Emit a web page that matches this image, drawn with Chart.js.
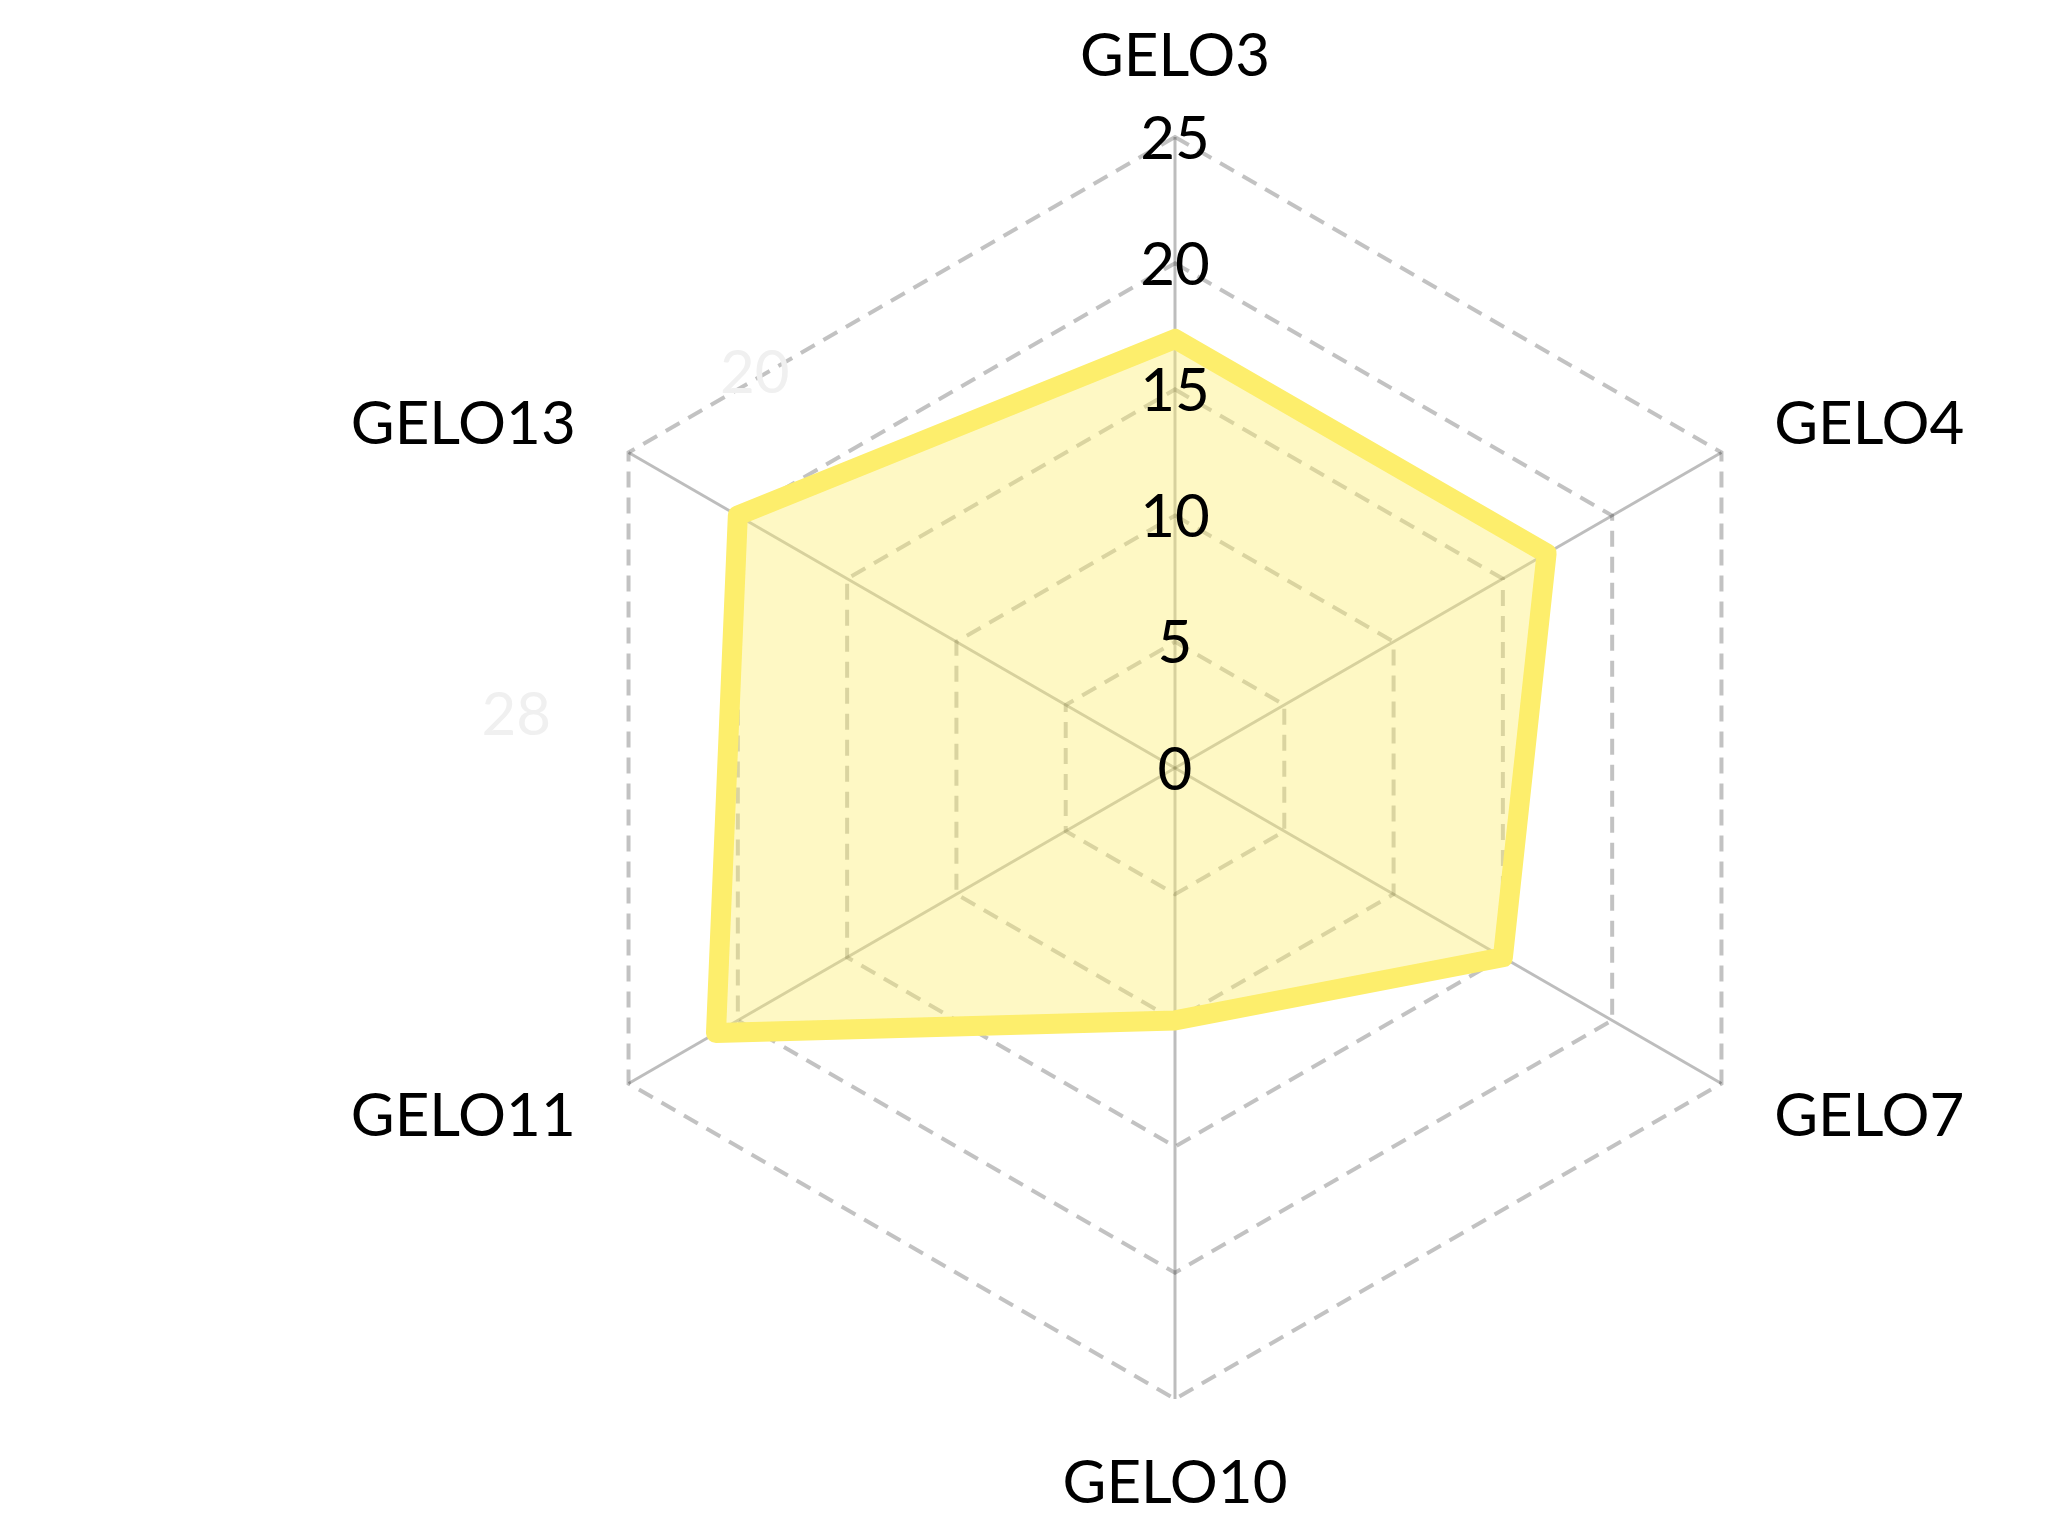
<!DOCTYPE html>
<html>
<head>
<meta charset="utf-8">
<script src="https://cdn.jsdelivr.net/npm/chart.js@4/dist/chart.umd.min.js"></script>
<style>
  html, body { margin: 0; padding: 0; background: #fff; }
  #wrap { width: 2048px; height: 1536px; }
</style>
</head>
<body>
<div id="wrap"><canvas id="radar"></canvas></div>
<script>
const categories = ['GELO3', 'GELO4', 'GELO7', 'GELO10', 'GELO11', 'GELO13'];
const values = [17, 17, 15, 10, 21, 20];
const tickValues = [0, 5, 10, 15, 20, 25];
// faint stray numbers seen in the picture (relative to radius)
const ghostTexts = ['20', '28'];
const ghostSpots = [[-0.666, -0.629], [-1.044, -0.086]];

const FONT = 'Lato, "Noto Sans", sans-serif';
const FONT_SIZE = 60;
const LINE = 'rgb(253, 238, 108)';
const FILL = 'rgba(253, 238, 108, 0.4)';

// tick numbers and point labels drawn by hand so they sit like the original
const labelPlugin = {
    id: 'labelPlugin',
    afterDraw(chart) {
        const scale = chart.scales.r;
        const ctx = chart.ctx;
        ctx.save();
        ctx.font = `${FONT_SIZE}px ${FONT}`;
        ctx.textBaseline = 'alphabetic';
        ctx.textAlign = 'center';

        // ghost numbers
        ctx.fillStyle = '#f0f0f0';
        ghostTexts.forEach((t, i) => {
            const asc = ctx.measureText(t).actualBoundingBoxAscent;
            const gx = scale.xCenter + ghostSpots[i][0] * scale.drawingArea;
            const gy = scale.yCenter + ghostSpots[i][1] * scale.drawingArea;
            ctx.fillText(t, gx, gy + asc / 2);
        });

        ctx.fillStyle = '#000';
        // tick values, centred on each ring along the top axis
        tickValues.forEach(v => {
            const t = String(v);
            const asc = ctx.measureText(t).actualBoundingBoxAscent;
            const d = scale.getDistanceFromCenterForValue(v);
            ctx.fillText(t, scale.xCenter, scale.yCenter - d + asc / 2);
        });

        categories.forEach((label, i) => {
            const p = scale.getPointPosition(i, scale.drawingArea + 61);
            const asc = ctx.measureText(label).actualBoundingBoxAscent;
            const dx = p.x - scale.xCenter;
            if (Math.abs(dx) < 1) {
                ctx.textAlign = 'center';
                if (p.y < scale.yCenter) {
                    ctx.fillText(label, p.x, p.y);
                } else {
                    ctx.fillText(label, p.x, p.y + asc);
                }
            } else {
                ctx.textAlign = dx > 0 ? 'left' : 'right';
                ctx.fillText(label, p.x, p.y + asc / 2);
            }
        });
        ctx.restore();
    }
};

new Chart(document.getElementById('radar'), {
    type: 'radar',
    data: {
        labels: categories,
        datasets: [{
            data: values,
            borderColor: LINE,
            backgroundColor: FILL,
            borderWidth: 20,
            borderJoinStyle: 'round',
            pointRadius: 0,
            pointHoverRadius: 0,
            fill: true,
            tension: 0
        }]
    },
    options: {
        responsive: true,
        maintainAspectRatio: false,
        devicePixelRatio: 1,
        animation: false,
        layout: {
            padding: { left: 544, right: 242, top: 137, bottom: 137 }
        },
        plugins: {
            legend: { display: false },
            tooltip: { enabled: false }
        },
        scales: {
            r: {
                min: 0,
                max: 25,
                angleLines: {
                    color: 'rgba(0, 0, 0, 0.26)',
                    lineWidth: 3
                },
                grid: {
                    color: 'rgba(0, 0, 0, 0.24)',
                    lineWidth: 4
                },
                border: {
                    dash: [16, 10]
                },
                pointLabels: { display: false },
                ticks: {
                    stepSize: 5,
                    display: false
                }
            }
        }
    },
    plugins: [labelPlugin]
});
</script>
</body>
</html>
